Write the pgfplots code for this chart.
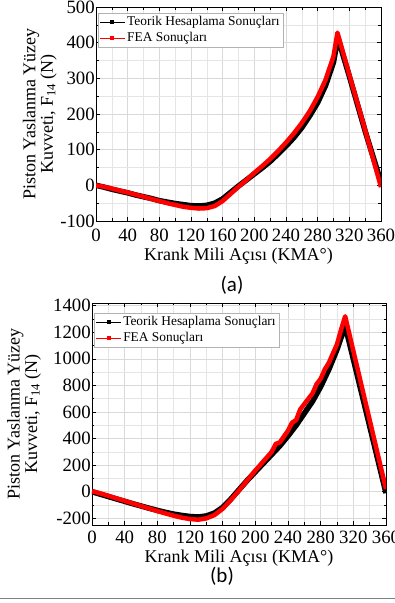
\documentclass[border=0pt]{standalone}
\usepackage{pgfplots}
\pgfplotsset{compat=1.18}
\usepackage{fontspec}
\setmainfont{Liberation Serif}
\newfontfamily\calib{Carlito}

\pgfplotstableread{
x y
0 0
10 -5
20 -11
30 -16
40 -21
50 -27
60 -32
70 -37
80 -43
90 -47
100 -51
110 -54
120 -57
130 -58
140 -56
150 -50
160 -38
170 -20
180 -2
190 15
200 32
210 49
220 67
230 88
240 110
250 134
260 162
270 195
280 232
290 280
300 345
305.5 414
320 306
340 152
360 8
}\blackA
\pgfplotstableread{
x y
0 0
10 -4
20 -9
30 -15
40 -20
50 -26
60 -32
70 -38
80 -44
90 -50
100 -55
110 -60
120 -63
130 -65
140 -64
150 -58
160 -44
170 -24
180 -4
190 15
200 35
210 54
220 74
230 96
240 120
250 146
260 175
270 208
280 248
290 296
300 362
305 428
320 310
340 155
360 -5
}\redA
\pgfplotstableread{
x y
0 0
10 -18
20 -36
30 -54
40 -72
50 -90
60 -107
70 -124
80 -140
90 -155
100 -168
110 -178
120 -186
130 -190
140 -182
150 -160
160 -118
170 -55
180 15
190 85
200 150
210 215
220 280
230 345
240 420
250 500
260 590
270 680
280 790
290 920
300 1070
310 1250
330 746
350 242
360 -10
}\blackB
\pgfplotstableread{
x y
0 5
10 -12
20 -30
30 -50
40 -68
50 -88
60 -107
70 -126
80 -145
90 -163
100 -180
110 -195
120 -205
130 -210
140 -200
150 -175
160 -128
170 -62
180 10
190 85
200 160
210 230
220 300
225 360
230 372
240 460
245 520
250 540
255 620
260 660
265 700
270 740
275 810
280 850
285 920
290 970
295 1040
300 1110
305 1220
310 1320
360 20
}\redB

\pgfplotsset{
 myax/.style={
  scale only axis,
  xmin=0,xmax=360,
  xtick={0,40,...,360},
  minor x tick num=1,
  minor y tick num=1,
  grid=both,
  major grid style={gray!30, line width=0.6pt},
  minor grid style={gray!20, line width=0.5pt},
  tick align=inside,
  major tick length=4pt, minor tick length=2.5pt,
  tick style={black, line width=0.6pt},
  axis line style={line width=0.8pt},
  tick label style={font=\fontsize{18.8}{18.8}\selectfont},
  yticklabel style={inner sep=1pt},
  xticklabel style={inner sep=2pt},
  /pgf/number format/assume math mode=true,
  /pgf/number format/1000 sep={},
  label style={font=\fontsize{18}{15}\selectfont},
  xlabel={Krank Mili Açısı (KMA°)},
  ylabel={Piston Yaslanma Yüzey\\Kuvveti, F\textsubscript{14} (N)},
  ylabel style={align=center, rotate=0},
  legend style={font=\fontsize{13.4}{15}\selectfont, draw=gray!60, inner sep=1.5pt, row sep=1pt, anchor=north west, cells={anchor=west}},
  legend image code/.code={\draw[#1, line width=0.5pt] (0pt,0pt) -- (25pt,0pt); \fill[#1, draw=none] (10.5pt,-2pt) rectangle (14.5pt,2pt);},
 }
}

\begin{document}
\begin{tikzpicture}
\useasboundingbox (0,0) rectangle (395pt,603pt);
\clip (0,0) rectangle (395pt,603pt);
\begin{axis}[myax,
  at={(96pt,382pt)}, anchor=south west,
  width=285pt, height=214pt,
  ymin=-100, ymax=500, ytick={-100,0,...,500},
  xticklabel style={yshift=-6pt},
  legend style={at={(0.007,0.972)}},
  xlabel style={at={(axis description cs:0.5,-0.165)}, anchor=center},
  ylabel style={at={(axis description cs:-0.197,0.5)}, anchor=center},
]
\addplot[black, line width=5.5pt, line join=round] table {\blackA};
\addlegendentry{Teorik Hesaplama Sonuçları}
\addplot[red, line width=4.5pt, line join=round] table {\redA};
\addlegendentry{FEA Sonuçları}
\end{axis}
\begin{axis}[myax,
  at={(92pt,78pt)}, anchor=south west,
  width=294pt, height=222pt,
  ymin=-250, ymax=1420, ytick={-200,0,...,1400},
  xticklabel style={yshift=-4pt},
  legend style={at={(0.007,0.955)}},
  xlabel style={at={(axis description cs:0.5,-0.15)}, anchor=center},
  ylabel style={at={(axis description cs:-0.231,0.5)}, anchor=center},
]
\addplot[black, line width=5.5pt, line join=round] table {\blackB};
\addlegendentry{Teorik Hesaplama Sonuçları}
\addplot[red, line width=4.5pt, line join=round] table {\redB};
\addlegendentry{FEA Sonuçları}
\end{axis}
\node[font=\calib\fontsize{21}{21}\selectfont] at (232pt,318pt) {(a)};
\node[font=\calib\fontsize{21}{21}\selectfont] at (222pt,27pt) {(b)};
\draw[gray, line width=1pt] (0,4pt) -- (395pt,4pt);
\end{tikzpicture}
\end{document}
